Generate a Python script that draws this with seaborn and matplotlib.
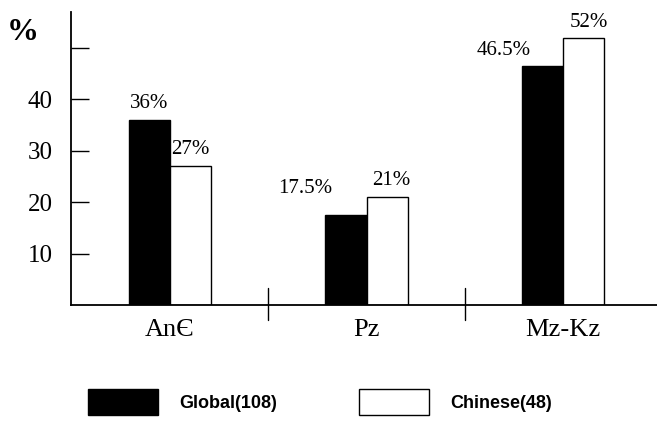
import matplotlib
matplotlib.use("Agg")
import matplotlib.pyplot as plt
import seaborn as sns
import pandas as pd

categories = ["AnЄ", "Pz", "Mz-Kz"]
global_vals = [36, 17.5, 46.5]
chinese_vals = [27, 21, 52]
series_names = ["Global(108)", "Chinese(48)"]
value_labels_global = ["36%", "17.5%", "46.5%"]
value_labels_chinese = ["27%", "21%", "52%"]
ytick_vals = [10, 20, 30, 40, 50]
ytick_labels = ["10", "20", "30", "40", ""]

sns.set_theme(style="ticks")
plt.rcParams["font.family"] = ["Liberation Serif", "DejaVu Serif"]
plt.rcParams["text.color"] = "black"

df = pd.DataFrame({
    "cat": categories * 2,
    "series": [series_names[0]] * 3 + [series_names[1]] * 3,
    "val": global_vals + chinese_vals,
})

fig = plt.figure(figsize=(6.57, 4.22), dpi=100)
ax = fig.add_axes([71 / 657, 117 / 422, 586 / 657, 293 / 422])

sns.barplot(data=df, x="cat", y="val", hue="series", order=categories,
            hue_order=series_names,
            palette={series_names[0]: "black", series_names[1]: "white"},
            edgecolor="black", linewidth=1.0, width=0.42, saturation=1,
            gap=0, ax=ax)

ax.set_xlim(-0.504, 2.478)
ax.set_ylim(0, 57)

for s in ["top", "right"]:
    ax.spines[s].set_visible(False)
for s in ["left", "bottom"]:
    ax.spines[s].set_linewidth(1.3)
    ax.spines[s].set_color("black")

ax.set_yticks(ytick_vals)
ax.set_yticklabels(ytick_labels)
ax.tick_params(axis="y", direction="in", length=13, width=1, pad=13,
               labelsize=18, colors="black")
ax.tick_params(axis="x", length=0, pad=10, labelsize=19, colors="black")
ax.set_xlabel("")
ax.set_ylabel("%", rotation=0, fontsize=23, fontweight="bold", color="black")
ax.yaxis.set_label_coords(-0.082, 0.88)

# separators between categories
for xs in [0.5, 1.5]:
    ax.plot([xs, xs], [3.3, -2.9], color="black", lw=1, clip_on=False)

# value labels
offsets_g = [(0, 7), (-41, 17), (-39, 6)]
offsets_c = [(0, 7), (4, 7), (5, 6)]
for cont, labs, offs in [(ax.containers[0], value_labels_global, offsets_g),
                         (ax.containers[1], value_labels_chinese, offsets_c)]:
    for bar, lab, (dx, dy) in zip(cont, labs, offs):
        ax.annotate(lab, (bar.get_x() + bar.get_width() / 2, bar.get_height()),
                    xytext=(dx, dy), textcoords="offset pixels",
                    ha="center", va="bottom", fontsize=15, color="black")

handles, labels = ax.get_legend_handles_labels()
ax.get_legend().remove()
fs = 13
leg = fig.legend(handles, labels, loc="center left",
                 bbox_to_anchor=(88 / 657, 20 / 422), ncol=2, frameon=False,
                 borderpad=0, borderaxespad=0,
                 handlelength=3.88, handleheight=1.8, handletextpad=1.2,
                 columnspacing=4.5,
                 labelcolor="black",
                 prop={"family": ["Liberation Sans", "DejaVu Sans"],
                       "weight": "bold", "size": fs})

fig.savefig("out.png", dpi=100)
